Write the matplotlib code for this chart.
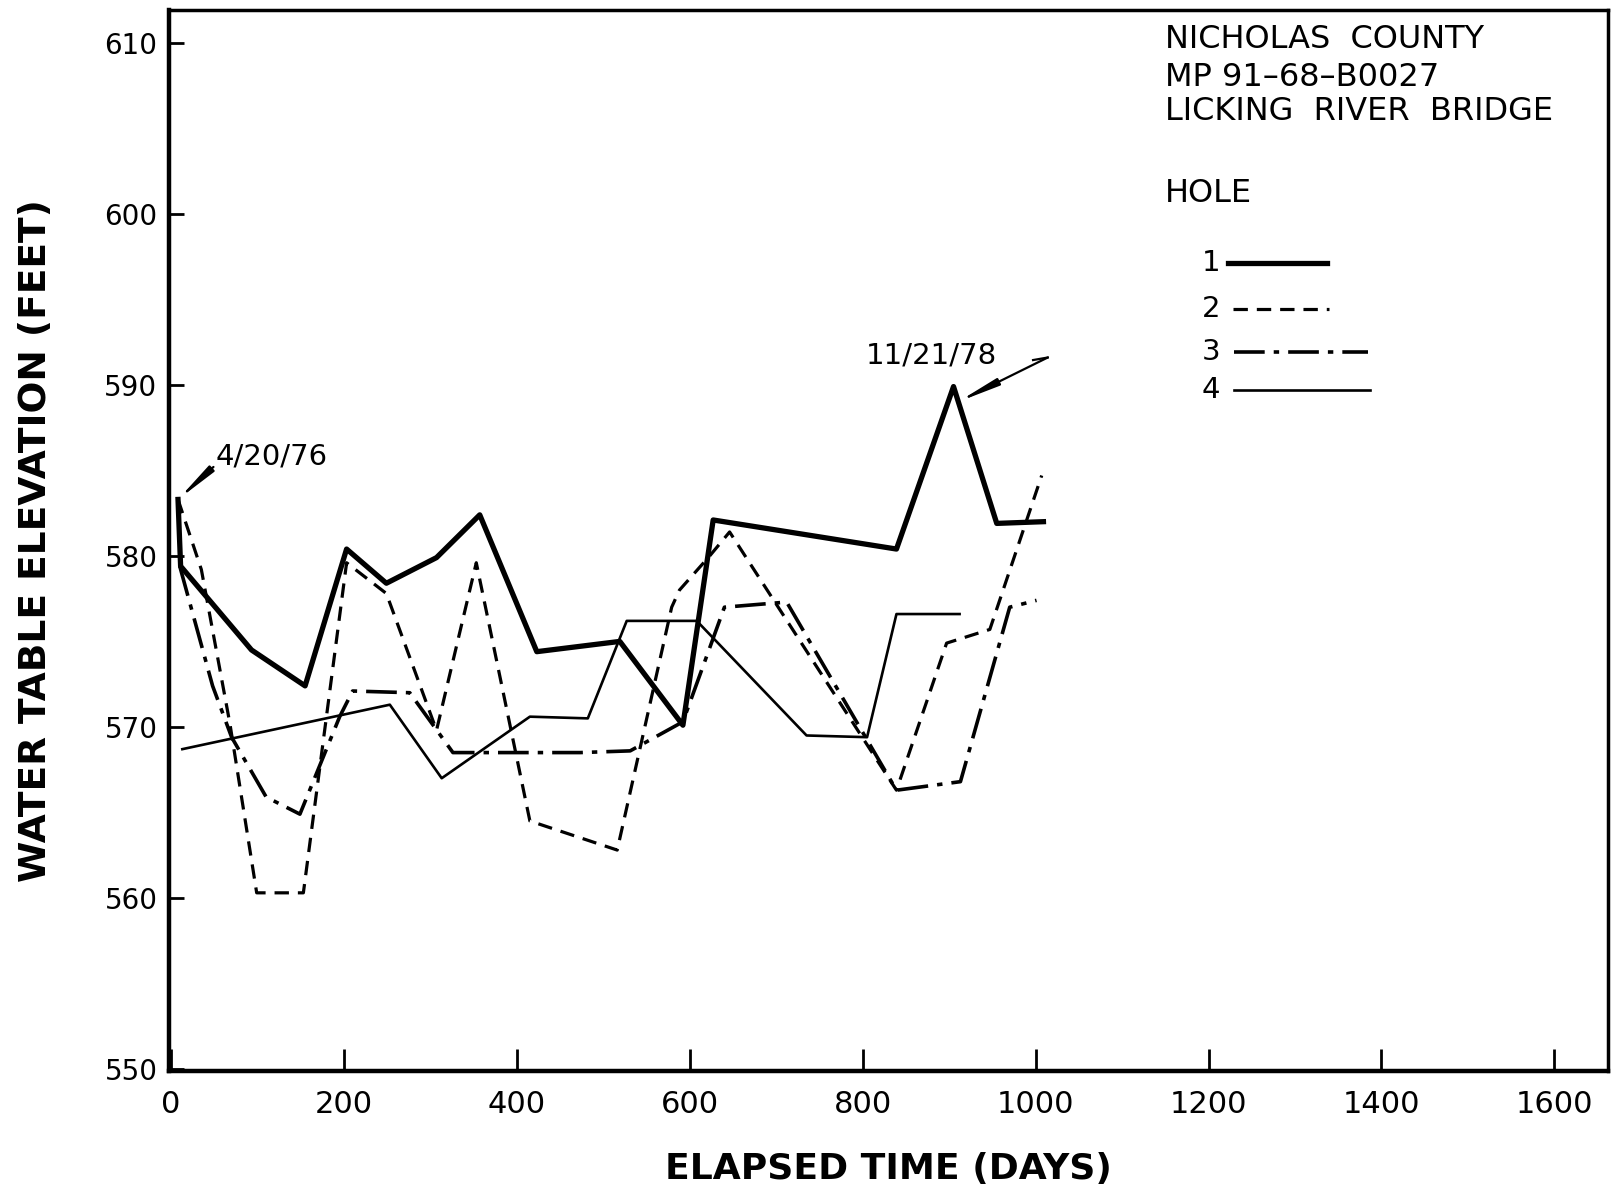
import matplotlib
matplotlib.use("Agg")
import matplotlib.pyplot as plt
from matplotlib.lines import Line2D

# elapsed days / water table elevation (feet)
hole1_days = [8, 11, 93, 155, 203, 249, 307, 357, 423, 519, 592, 627, 839, 905, 955, 1009]
hole1_elev = [583.3, 579.4, 574.5, 572.4, 580.4, 578.4, 579.9, 582.4, 574.4, 575.0, 570.1, 582.1, 580.4, 589.9, 581.9, 582.0]

hole2_days = [8, 35, 68, 99, 153, 203, 249, 307, 353, 415, 516, 579, 588, 623, 646, 839, 897, 947, 1007]
hole2_elev = [583.3, 579.2, 570.2, 560.3, 560.3, 579.6, 577.8, 569.8, 579.6, 564.5, 562.8, 577.0, 578.0, 580.0, 581.4, 566.3, 574.9, 575.7, 584.7]

hole3_days = [10, 48, 70, 110, 149, 195, 210, 276, 326, 473, 531, 592, 640, 712, 839, 913, 970, 1001]
hole3_elev = [579.4, 572.4, 569.4, 565.9, 564.9, 570.6, 572.1, 572.0, 568.5, 568.5, 568.6, 570.3, 577.0, 577.3, 566.3, 566.8, 577.0, 577.4]

hole4_days = [13, 253, 313, 415, 482, 527, 608, 735, 805, 839, 912]
hole4_elev = [568.7, 571.3, 567.0, 570.6, 570.5, 576.2, 576.2, 569.5, 569.4, 576.6, 576.6]

x_ticks = [0, 200, 400, 600, 800, 1000, 1200, 1400, 1600]
y_ticks = [550, 560, 570, 580, 590, 600, 610]

# call-outs: (label, text position, arrow tail, arrow tip)
callouts = [
    ("4/20/76", (52, 585.8), (49, 585.2), (hole1_days[0], hole1_elev[0])),
    ("11/21/78", (803, 591.7), (1014, 591.6), (910, 589.0)),
]

W, H = 1619, 1189
fig = plt.figure(figsize=(W / 100, H / 100), dpi=100)
ax = fig.add_axes([168.5 / W, 1 - 1070.7 / H, (1608 - 168.5) / W, (1070.7 - 10.3) / H])

style1 = dict(color="black", lw=3.8, solid_joinstyle="round")
style2 = dict(color="black", lw=2.3, linestyle=(0, (4.5, 2.8)))
style3 = dict(color="black", lw=2.6, linestyle=(0, (8.5, 2.5, 1.5, 2.5)))
style4 = dict(color="black", lw=1.9)

ax.plot(hole4_days, hole4_elev, **style4)
ax.plot(hole3_days, hole3_elev, **style3)
ax.plot(hole2_days, hole2_elev, **style2)
ax.plot(hole1_days, hole1_elev, **style1)

ax.set_xlim(-3, 1662)
ax.set_ylim(549.9, 611.9)
ax.set_xticks(x_ticks)
ax.set_yticks(y_ticks)
ax.tick_params(axis="x", direction="in", length=16, width=2, pad=14, labelsize=22)
ax.tick_params(axis="y", direction="in", length=11, width=2, pad=8, labelsize=20)
for s in ax.spines.values():
    s.set_linewidth(2.5)
ax.spines["left"].set_linewidth(3.2)
ax.spines["bottom"].set_linewidth(3.2)

ax.set_xlabel("ELAPSED TIME (DAYS)", fontsize=26, fontweight="bold", labelpad=24)
ax.set_ylabel("WATER TABLE ELEVATION (FEET)", fontsize=27, fontweight="bold", labelpad=36)

for label, tpos, tail, tip in callouts:
    ax.text(tpos[0], tpos[1], label, fontsize=21, va="center", ha="left")
    ax.annotate("", xy=tip, xytext=tail,
                arrowprops=dict(arrowstyle="-|>,head_length=2.4,head_width=0.22", lw=1.6,
                                color="black", shrinkA=0, shrinkB=0))
# small hook at the tail of the 11/21/78 arrow
t2 = callouts[1][2]
ax.plot([t2[0] - 17, t2[0]], [t2[1] - 0.15, t2[1]], color="black", lw=1.6)

# title block and legend
tx = 1165 / W
for txt, y in [("NICHOLAS  COUNTY", 39), ("MP 91\u201368\u2013B0027", 77), ("LICKING  RIVER  BRIDGE", 112), ("HOLE", 193)]:
    fig.text(tx, 1 - y / H, txt, fontsize=23, va="center", ha="left")

legend_rows = [("1", 263, 1228, 1327, style1), ("2", 309, 1233, 1329, style2),
               ("3", 352, 1234, 1368, style3), ("4", 390, 1234, 1370, style4)]
for lab, y, x0, x1, st in legend_rows:
    fig.text(1202 / W, 1 - y / H, lab, fontsize=21, va="center", ha="left")
    fig.add_artist(Line2D([x0 / W, x1 / W], [1 - y / H, 1 - y / H], transform=fig.transFigure, **st))

fig.savefig("out.png", dpi=100)
